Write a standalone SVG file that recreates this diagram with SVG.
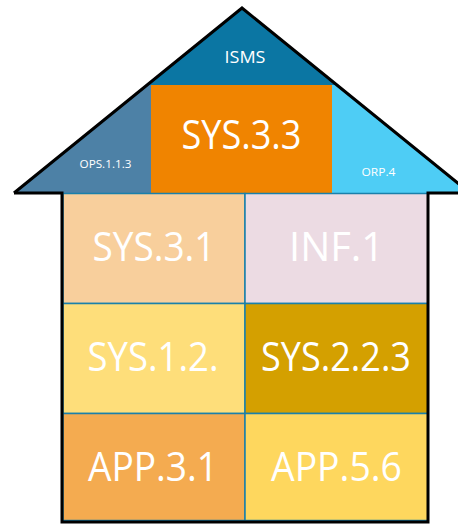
<svg xmlns="http://www.w3.org/2000/svg" width="458" height="524" viewBox="0 0 458 524">
  <style>
    .cell { stroke: #1a80aa; stroke-width: 1.5; }
    .big { font-family: "Open Sans", "Noto Sans", sans-serif; font-size: 40px; fill: #ffffff; text-anchor: middle; }
    .small { font-family: "Open Sans", "Noto Sans", sans-serif; fill: #ffffff; text-anchor: middle; }
    .outline { fill: none; stroke: #000000; stroke-width: 3; stroke-linejoin: miter; }
  </style>
  <defs>
    <clipPath id="roofClip">
      <polygon points="242,8 14,193 470,193"/>
    </clipPath>
  </defs>
  <rect width="458" height="524" fill="#ffffff"/>

  <g clip-path="url(#roofClip)">
    <g id="isms">
      <rect x="0" y="0" width="470" height="85" fill="#0b76a3"/>
    </g>
    <g id="ops113">
      <rect x="0" y="85" width="151" height="108" fill="#4d81a6"/>
    </g>
    <g id="orp4">
      <rect x="332" y="85" width="138" height="108" fill="#4ecdf5"/>
    </g>
  </g>
  <g id="sys333">
    <rect x="151" y="85" width="181" height="108" fill="#f08400"/>
    <text class="big" x="241.5" y="149" font-size="37" textLength="120" lengthAdjust="spacingAndGlyphs">SYS.3.3</text>
  </g>
  <text class="small" x="245" y="63" font-size="16" textLength="41" lengthAdjust="spacingAndGlyphs">ISMS</text>
  <text class="small" x="105.5" y="168" font-size="11" textLength="52" lengthAdjust="spacingAndGlyphs">OPS.1.1.3</text>
  <text class="small" x="378.5" y="176" font-size="11" textLength="34" lengthAdjust="spacingAndGlyphs">ORP.4</text>

  <g id="sys31">
    <rect class="cell" x="63" y="193.5" width="182" height="110" fill="#f8cf9c"/>
    <text class="big" x="154" y="261" textLength="123" lengthAdjust="spacingAndGlyphs">SYS.3.1</text>
  </g>
  <g id="inf1">
    <rect class="cell" x="245" y="193.5" width="183" height="110" fill="#ecdbe3"/>
    <text class="big" x="336.5" y="261" textLength="95" lengthAdjust="spacingAndGlyphs">INF.1</text>
  </g>
  <g id="sys12">
    <rect class="cell" x="63" y="303.5" width="182" height="110" fill="#fede7a"/>
    <text class="big" x="153" y="371" textLength="131" lengthAdjust="spacingAndGlyphs">SYS.1.2.</text>
  </g>
  <g id="sys223">
    <rect class="cell" x="245" y="303.5" width="183" height="110" fill="#d4a000"/>
    <text class="big" x="336" y="371" textLength="150" lengthAdjust="spacingAndGlyphs">SYS.2.2.3</text>
  </g>
  <g id="app31">
    <rect class="cell" x="63" y="413.5" width="182" height="107" fill="#f4ab50"/>
    <text class="big" x="153" y="481" textLength="130" lengthAdjust="spacingAndGlyphs">APP.3.1</text>
  </g>
  <g id="app56">
    <rect class="cell" x="245" y="413.5" width="183" height="107" fill="#fed75e"/>
    <text class="big" x="336.5" y="481" textLength="131" lengthAdjust="spacingAndGlyphs">APP.5.6</text>
  </g>

  <g id="outline">
    <path class="outline" d="M14,193 L242,8 L470,193"/>
    <path class="outline" d="M14,193 H62 V522 H428 V193 H460"/>
  </g>
</svg>
